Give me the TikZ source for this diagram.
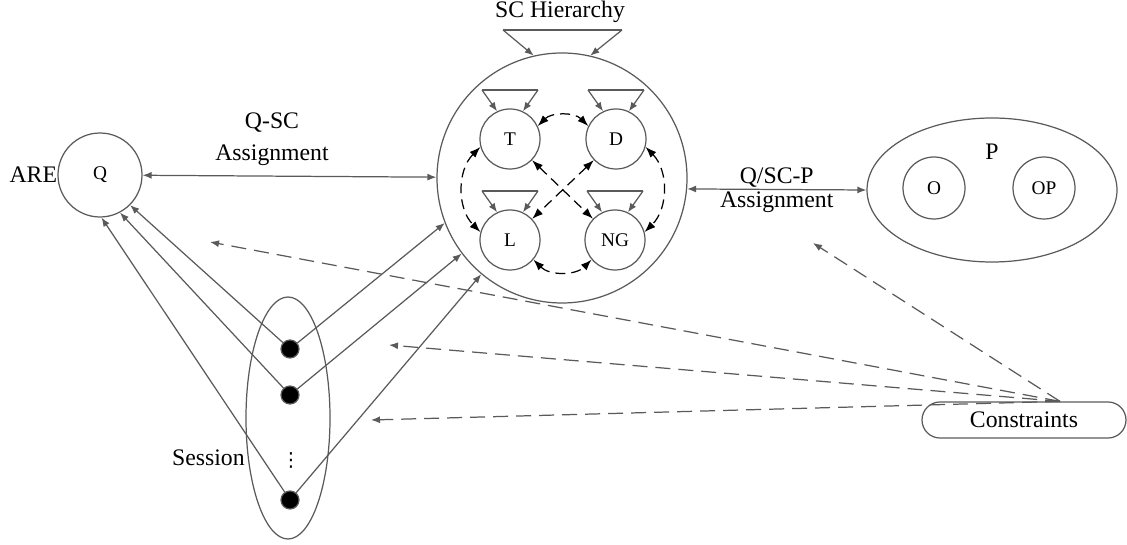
\documentclass[tikz,border=0pt]{standalone}
\usepackage{fontspec}
\setmainfont{Liberation Serif}
\newfontfamily\symfont{DejaVu Sans}
\usetikzlibrary{arrows.meta,shapes.geometric,calc}
\definecolor{lgray}{RGB}{90,90,90}
\tikzset{
  big/.style={font=\fontsize{13.5}{18}\selectfont},
  small/.style={font=\fontsize{11}{13}\selectfont},
  circ/.style={circle,draw=lgray,line width=0.7pt,inner sep=0pt,small},
  blob/.style={circle,fill=black,draw=lgray,line width=0.7pt,minimum size=0.36cm,inner sep=0pt},
  gline/.style={draw=lgray,line width=0.7pt},
  garr/.style={gline,-{Latex[length=1.8mm,width=1.4mm]}},
  gboth/.style={gline,{Latex[length=1.8mm,width=1.4mm]}-{Latex[length=1.8mm,width=1.4mm]}},
  gdash/.style={garr,dash pattern=on 3mm off 1.6mm},
  darr/.style={draw=black,line width=0.7pt,dash pattern=on 2mm off 1.2mm,
    {Latex[length=2.2mm,width=1.6mm]}-{Latex[length=2.2mm,width=1.6mm]}},
}

\begin{document}
\begin{tikzpicture}
\useasboundingbox (0,0) rectangle (22.54,10.88);

% query side
\node[circ,minimum size=1.68cm] (Q) at (2.0,7.38) {Q};
\node[big,anchor=east,inner sep=0pt] (are) at (Q.west) {ARE};

% SC circle
\node[circ,minimum size=5cm] (sc) at (11.24,7.32) {};
\node[circ,minimum size=1.2cm] (T) at (10.2,8.1) {T};
\node[circ,minimum size=1.2cm] (D) at (12.32,8.1) {D};
\node[circ,minimum size=1.2cm] (L) at (10.2,6.08) {L};
\node[circ,minimum size=1.2cm] (NG) at (12.3,6.08) {NG};

\node[big] (hier) at (11.2,10.64) {SC Hierarchy};
\coordinate (h1) at (10.06,10.28);
\coordinate (h2) at (12.44,10.28);
\draw[gline] (h1) -- (h2);
\draw[garr] (h1) -- (sc.103);
\draw[garr] (h2) -- (sc.77);

\foreach \n in {T,D,L,NG}{
  \coordinate (\n-l) at ($(\n)+(-0.56,0.98)$);
  \coordinate (\n-r) at ($(\n)+(0.56,0.98)$);
  \draw[gline] (\n-l) -- (\n-r);
  \draw[garr] (\n-l) -- (\n.115);
  \draw[garr] (\n-r) -- (\n.65);
}

\draw[darr] (T.25) to[bend left=45] (D.155);
\draw[darr] (T.195) to[bend right=45] (L.165);
\draw[darr] (D.345) to[bend left=45] (NG.15);
\draw[darr] (L.320) to[bend right=45] (NG.220);
\draw[darr] (D) -- (L);
\draw[darr] (T) -- (NG);

% assignments
\node[big,align=center] (qsc) at (5.44,8.1) {Q-SC\\Assignment};
\draw[gboth] (Q) -- (sc);

\node[ellipse,gline,minimum width=5cm,minimum height=2.88cm] (P) at (19.84,7.08) {};
\node[big] (plab) at (19.84,7.84) {P};
\node[circ,minimum size=1.24cm] (O) at (18.68,7.12) {O};
\node[circ,minimum size=1.24cm] (OP) at (20.88,7.12) {OP};
\draw[gboth] (sc.-5) -- (P.west)
  node[midway,above,big,inner sep=1pt] (qscp) {Q/SC-P}
  node[midway,below,big,inner sep=1pt] (qscpa) {Assignment};

% session
\node[ellipse,gline,minimum width=1.68cm,minimum height=4.84cm] (ses) at (5.76,2.52) {};
\node[big,anchor=east,inner sep=0pt] (seslab) at (4.9,1.72) {Session};
\node[blob] (d1) at (5.8,3.9) {};
\node[blob] (d2) at (5.8,2.98) {};
\node[blob] (d3) at (5.8,0.88) {};
\node[font=\symfont\fontsize{11}{13}\selectfont] (vd) at (5.82,1.68) {⋮};

\draw[garr] (d1) -- (Q.-45);
\draw[garr] (d2) -- (Q.-62);
\draw[garr] (d3) -- (Q.-88);
\draw[garr] (d1) -- (sc.201);
\draw[garr] (d2) -- (sc.217);
\draw[garr] (d3) -- (sc.230);

% constraints
\node[big,gline,rounded corners=0.36cm,minimum width=4.08cm,minimum height=0.72cm] (con) at (20.48,2.48) {Constraints};
\coordinate (cs) at ($(con.north)+(0.72,0)$);
\coordinate (c1) at (4.2,6.04);
\coordinate (c2) at (7.78,3.98);
\coordinate (c3) at (7.42,2.48);
\coordinate (c4) at (16.26,6.02);
\foreach \c in {c1,c2,c3,c4}
  \draw[gdash] (cs) -- (\c);
\end{tikzpicture}
\end{document}
